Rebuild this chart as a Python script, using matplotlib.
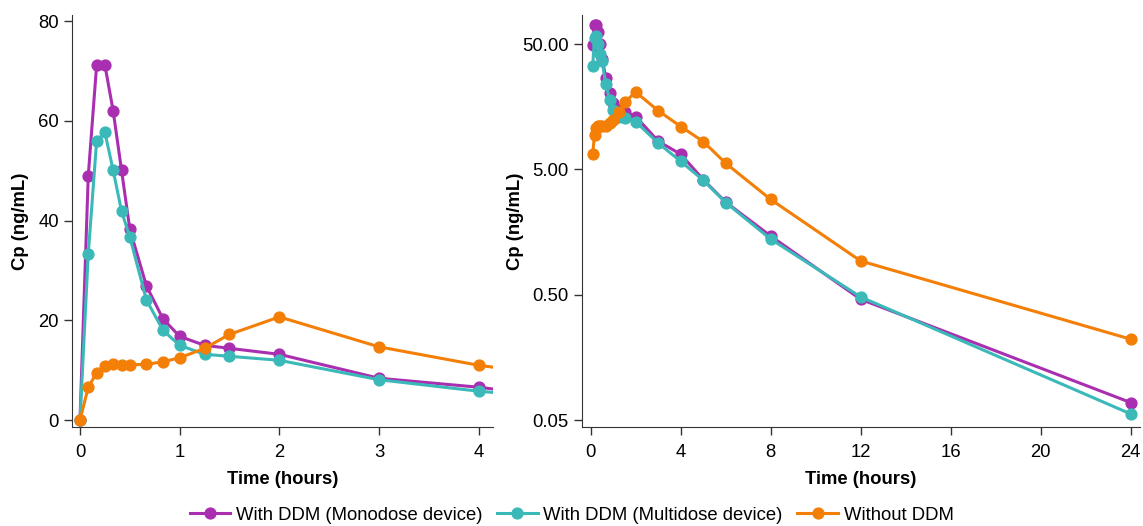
import numpy as np
import matplotlib.pyplot as plt
from matplotlib.ticker import FixedLocator, FormatStrFormatter, NullLocator

plt.rcParams['font.family'] = ['Liberation Sans', 'DejaVu Sans']

# sampling times (hours)
time_h = [0, 0.083, 0.167, 0.25, 0.333, 0.417, 0.5, 0.667, 0.833, 1,
          1.25, 1.5, 2, 3, 4, 5, 6, 8, 12, 24]

# plasma concentration (ng/mL)
cp_mono = [0, 49, 71.2, 71.2, 62, 50.1, 38.3, 26.9, 20.3, 16.8,
           15.0, 14.4, 13.2, 8.4, 6.6, 4.15, 2.74, 1.47, 0.46, 0.069]
cp_multi = [0, 33.3, 56, 57.7, 50.1, 41.9, 36.7, 24.1, 18, 15,
            13.2, 12.8, 12, 8.1, 5.8, 4.1, 2.72, 1.39, 0.48, 0.056]
cp_none = [0, 6.6, 9.5, 10.8, 11.2, 11.1, 11.1, 11.2, 11.7, 12.5,
           14.4, 17.2, 20.7, 14.7, 11.0, 8.35, 5.6, 2.88, 0.93, 0.221]

series = [
    ("With DDM (Monodose device)", cp_mono, "#A92FB0"),
    ("With DDM (Multidose device)", cp_multi, "#3BB9B9"),
    ("Without DDM", cp_none, "#F37F07"),
]

FS = 13.3

fig = plt.figure(figsize=(11.43, 5.26), dpi=100)
ax0 = fig.add_axes([0.063, 0.188, 0.368, 0.783])
ax1 = fig.add_axes([0.509, 0.188, 0.488, 0.783])

for label, cp, col in series:
    ax0.plot(time_h, cp, '-o', color=col, lw=2.2, ms=7.8, label=label)
    # zero values can't go on the log axis
    ax1.plot(time_h, np.where(np.array(cp) > 0, cp, np.nan), '-o',
             color=col, lw=2.2, ms=7.8)

# linear panel
ax0.set_xlim(-0.08, 4.14)
ax0.set_ylim(-1.4, 81.2)
ax0.set_xticks([0, 1, 2, 3, 4])
ax0.set_yticks([0, 20, 40, 60, 80])

# log panel
ax1.set_yscale('log')
ax1.set_xlim(-0.4, 24.4)
ax1.set_ylim(0.0439, 85)
ax1.set_xticks([0, 4, 8, 12, 16, 20, 24])
ax1.yaxis.set_major_locator(FixedLocator([0.05, 0.5, 5, 50]))
ax1.yaxis.set_major_formatter(FormatStrFormatter('%.2f'))
ax1.yaxis.set_minor_locator(NullLocator())

for ax in (ax0, ax1):
    ax.spines['top'].set_visible(False)
    ax.spines['right'].set_visible(False)
    ax.spines['left'].set_color('#333333')
    ax.spines['bottom'].set_color('#333333')
    ax.tick_params(direction='out', length=6, width=1, labelsize=FS, colors='#333333',
                   labelcolor='black')
    ax.tick_params(axis='x', pad=6)
    ax.set_xlabel("Time (hours)", fontsize=FS, fontweight='bold', labelpad=7)
    ax.set_ylabel("Cp (ng/mL)", fontsize=FS, fontweight='bold')

ax0.yaxis.set_label_coords(-0.103, 0.5)
ax1.yaxis.set_label_coords(-0.104, 0.5)

fig.legend(loc='lower center', bbox_to_anchor=(0.5, -0.027), ncol=3, frameon=False,
           fontsize=FS, handlelength=2.2, handletextpad=0.3, columnspacing=0.8)

fig.savefig("out.png", dpi=100)
